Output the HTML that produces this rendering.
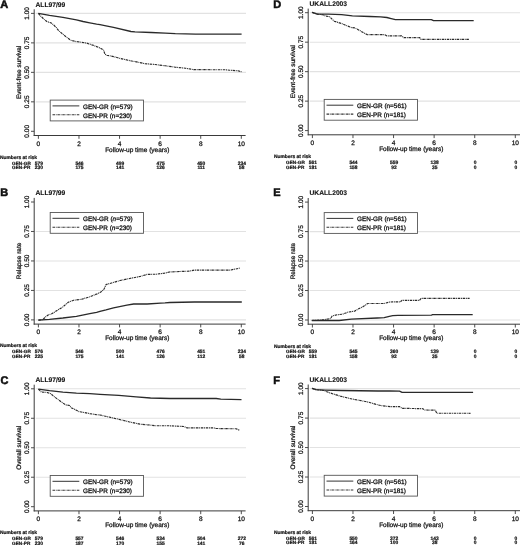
<!DOCTYPE html>
<html><head><meta charset="utf-8"><title>Kaplan-Meier curves</title>
<style>
html,body{margin:0;padding:0;background:#fff;}
body{width:520px;height:545px;overflow:hidden;}
svg{display:block;filter:blur(0.3px);}
text{font-family:"Liberation Sans",sans-serif;fill:#111;text-rendering:geometricPrecision;stroke:#111;stroke-width:0.25px;}
.letter{font-size:11px;font-weight:bold;stroke-width:0.55px;}
.title{font-size:6.7px;font-weight:bold;stroke-width:0.12px;}
.yt{font-size:6.5px;}
.ytitle{font-size:6.45px;}
.xt{font-size:6.5px;}
.xtitle{font-size:6.5px;}
.nar{font-size:4.9px;font-weight:bold;stroke-width:0.2px;}
.rt{font-size:4.7px;font-weight:bold;stroke-width:0.2px;}
.rn{font-size:4.9px;}
.leg{font-size:6.4px;stroke-width:0.28px;}
</style></head>
<body>
<svg width="520" height="545" viewBox="0 0 520 545">
<rect width="520" height="545" fill="#fff"/>
<g transform="translate(0,0)">
<line x1="35.7" y1="13.40" x2="246.0" y2="13.40" stroke="#e2e2e2" stroke-width="1.1"/>
<line x1="35.7" y1="42.88" x2="246.0" y2="42.88" stroke="#e2e2e2" stroke-width="1.1"/>
<line x1="35.7" y1="72.35" x2="246.0" y2="72.35" stroke="#e2e2e2" stroke-width="1.1"/>
<line x1="35.7" y1="101.83" x2="246.0" y2="101.83" stroke="#e2e2e2" stroke-width="1.1"/>
<line x1="34.2" y1="9.3" x2="34.2" y2="136.0" stroke="#3a3a3a" stroke-width="1"/>
<line x1="33.7" y1="135.5" x2="245.6" y2="135.5" stroke="#3a3a3a" stroke-width="1"/>
<line x1="31.000000000000004" y1="13.40" x2="34.2" y2="13.40" stroke="#3a3a3a" stroke-width="0.9"/>
<text transform="translate(29.0,13.40) rotate(-90)" text-anchor="middle" class="yt">1.00</text>
<line x1="31.000000000000004" y1="42.88" x2="34.2" y2="42.88" stroke="#3a3a3a" stroke-width="0.9"/>
<text transform="translate(29.0,42.88) rotate(-90)" text-anchor="middle" class="yt">0.75</text>
<line x1="31.000000000000004" y1="72.35" x2="34.2" y2="72.35" stroke="#3a3a3a" stroke-width="0.9"/>
<text transform="translate(29.0,72.35) rotate(-90)" text-anchor="middle" class="yt">0.50</text>
<line x1="31.000000000000004" y1="101.83" x2="34.2" y2="101.83" stroke="#3a3a3a" stroke-width="0.9"/>
<text transform="translate(29.0,101.83) rotate(-90)" text-anchor="middle" class="yt">0.25</text>
<line x1="31.000000000000004" y1="131.30" x2="34.2" y2="131.30" stroke="#3a3a3a" stroke-width="0.9"/>
<text transform="translate(29.0,131.30) rotate(-90)" text-anchor="middle" class="yt">0.00</text>
<text transform="translate(20.6,72.35) rotate(-90)" text-anchor="middle" class="ytitle">Event-free survival</text>
<line x1="38.40" y1="135.5" x2="38.40" y2="138.8" stroke="#3a3a3a" stroke-width="0.9"/>
<text x="38.40" y="145.5" text-anchor="middle" class="xt">0</text>
<line x1="78.98" y1="135.5" x2="78.98" y2="138.8" stroke="#3a3a3a" stroke-width="0.9"/>
<text x="78.98" y="145.5" text-anchor="middle" class="xt">2</text>
<line x1="119.56" y1="135.5" x2="119.56" y2="138.8" stroke="#3a3a3a" stroke-width="0.9"/>
<text x="119.56" y="145.5" text-anchor="middle" class="xt">4</text>
<line x1="160.14" y1="135.5" x2="160.14" y2="138.8" stroke="#3a3a3a" stroke-width="0.9"/>
<text x="160.14" y="145.5" text-anchor="middle" class="xt">6</text>
<line x1="200.72" y1="135.5" x2="200.72" y2="138.8" stroke="#3a3a3a" stroke-width="0.9"/>
<text x="200.72" y="145.5" text-anchor="middle" class="xt">8</text>
<line x1="241.30" y1="135.5" x2="241.30" y2="138.8" stroke="#3a3a3a" stroke-width="0.9"/>
<text x="241.30" y="145.5" text-anchor="middle" class="xt">10</text>
<text x="137.3" y="151.6" text-anchor="middle" class="xtitle">Follow-up time (years)</text>
<text x="0.2" y="8.1" class="letter">A</text>
<text x="35.5" y="6.6" class="title">ALL97/99</text>
<text x="0" y="158.9" class="nar">Numbers at risk</text>
<text x="12.1" y="164.6" class="rt">GEN-GR</text>
<text x="12.1" y="169.3" class="rt">GEN-PR</text>
<text x="38.90" y="164.6" text-anchor="middle" class="rt rn">579</text>
<text x="38.90" y="169.3" text-anchor="middle" class="rt rn">230</text>
<text x="79.48" y="164.6" text-anchor="middle" class="rt rn">546</text>
<text x="79.48" y="169.3" text-anchor="middle" class="rt rn">175</text>
<text x="120.06" y="164.6" text-anchor="middle" class="rt rn">499</text>
<text x="120.06" y="169.3" text-anchor="middle" class="rt rn">141</text>
<text x="160.64" y="164.6" text-anchor="middle" class="rt rn">475</text>
<text x="160.64" y="169.3" text-anchor="middle" class="rt rn">126</text>
<text x="201.22" y="164.6" text-anchor="middle" class="rt rn">450</text>
<text x="201.22" y="169.3" text-anchor="middle" class="rt rn">111</text>
<text x="241.80" y="164.6" text-anchor="middle" class="rt rn">234</text>
<text x="241.80" y="169.3" text-anchor="middle" class="rt rn">58</text>
<rect x="50.2" y="100.1" width="93.3" height="20.8" fill="#fff" stroke="#555" stroke-width="0.9"/>
<line x1="52.5" y1="105.90" x2="79.3" y2="105.90" stroke="#333" stroke-width="1"/>
<line x1="52.5" y1="114.80" x2="79.3" y2="114.80" stroke="#333" stroke-width="1.1" stroke-dasharray="2.5 0.75 0.9 0.75"/>
<text x="83.1" y="108.70" class="leg">GEN-GR (n=579)</text>
<text x="83.1" y="117.60" class="leg">GEN-PR (n=230)</text>
</g>
<polyline points="38.40,13.40 49.50,15.40 62.90,17.40 76.40,19.80 83.10,21.50 89.80,22.80 96.60,24.20 100.00,24.70 106.00,25.80 113.50,27.40 131.00,31.50 135.00,31.90 151.10,32.50 165.20,33.10 175.30,33.70 195.50,34.10 241.60,34.10" fill="none" stroke="#2a2a2a" stroke-width="1.3" stroke-linejoin="round"/>
<polyline points="38.40,13.40 40.00,15.40 44.10,19.40 46.80,21.50 50.80,22.80 53.50,24.80 56.20,27.50 58.90,30.90 62.90,34.20 67.00,37.60 71.00,40.30 76.40,41.60 80.00,42.00 86.70,43.10 93.50,45.40 100.20,48.10 103.60,50.10 104.90,54.20 106.90,55.20 113.60,56.60 120.40,58.50 129.80,60.60 137.90,62.20 145.00,63.70 155.10,64.50 165.20,65.80 175.30,67.20 185.40,68.20 193.50,69.60 225.80,69.80 229.80,70.20 237.90,70.80 241.60,71.80" fill="none" stroke="#2a2a2a" stroke-width="1.15" stroke-dasharray="2.5 0.75 0.9 0.75"/>
<g transform="translate(0,188.6)">
<line x1="35.7" y1="42.88" x2="246.0" y2="42.88" stroke="#e2e2e2" stroke-width="1.1"/>
<line x1="35.7" y1="72.35" x2="246.0" y2="72.35" stroke="#e2e2e2" stroke-width="1.1"/>
<line x1="35.7" y1="101.83" x2="246.0" y2="101.83" stroke="#e2e2e2" stroke-width="1.1"/>
<line x1="35.7" y1="131.30" x2="246.0" y2="131.30" stroke="#e2e2e2" stroke-width="1.1"/>
<line x1="34.2" y1="9.3" x2="34.2" y2="136.0" stroke="#3a3a3a" stroke-width="1"/>
<line x1="33.7" y1="135.5" x2="245.6" y2="135.5" stroke="#3a3a3a" stroke-width="1"/>
<line x1="31.000000000000004" y1="13.40" x2="34.2" y2="13.40" stroke="#3a3a3a" stroke-width="0.9"/>
<text transform="translate(29.0,13.40) rotate(-90)" text-anchor="middle" class="yt">1.00</text>
<line x1="31.000000000000004" y1="42.88" x2="34.2" y2="42.88" stroke="#3a3a3a" stroke-width="0.9"/>
<text transform="translate(29.0,42.88) rotate(-90)" text-anchor="middle" class="yt">0.75</text>
<line x1="31.000000000000004" y1="72.35" x2="34.2" y2="72.35" stroke="#3a3a3a" stroke-width="0.9"/>
<text transform="translate(29.0,72.35) rotate(-90)" text-anchor="middle" class="yt">0.50</text>
<line x1="31.000000000000004" y1="101.83" x2="34.2" y2="101.83" stroke="#3a3a3a" stroke-width="0.9"/>
<text transform="translate(29.0,101.83) rotate(-90)" text-anchor="middle" class="yt">0.25</text>
<line x1="31.000000000000004" y1="131.30" x2="34.2" y2="131.30" stroke="#3a3a3a" stroke-width="0.9"/>
<text transform="translate(29.0,131.30) rotate(-90)" text-anchor="middle" class="yt">0.00</text>
<text transform="translate(20.6,72.35) rotate(-90)" text-anchor="middle" class="ytitle">Relapse rate</text>
<line x1="38.40" y1="135.5" x2="38.40" y2="138.8" stroke="#3a3a3a" stroke-width="0.9"/>
<text x="38.40" y="145.5" text-anchor="middle" class="xt">0</text>
<line x1="78.98" y1="135.5" x2="78.98" y2="138.8" stroke="#3a3a3a" stroke-width="0.9"/>
<text x="78.98" y="145.5" text-anchor="middle" class="xt">2</text>
<line x1="119.56" y1="135.5" x2="119.56" y2="138.8" stroke="#3a3a3a" stroke-width="0.9"/>
<text x="119.56" y="145.5" text-anchor="middle" class="xt">4</text>
<line x1="160.14" y1="135.5" x2="160.14" y2="138.8" stroke="#3a3a3a" stroke-width="0.9"/>
<text x="160.14" y="145.5" text-anchor="middle" class="xt">6</text>
<line x1="200.72" y1="135.5" x2="200.72" y2="138.8" stroke="#3a3a3a" stroke-width="0.9"/>
<text x="200.72" y="145.5" text-anchor="middle" class="xt">8</text>
<line x1="241.30" y1="135.5" x2="241.30" y2="138.8" stroke="#3a3a3a" stroke-width="0.9"/>
<text x="241.30" y="145.5" text-anchor="middle" class="xt">10</text>
<text x="137.3" y="151.6" text-anchor="middle" class="xtitle">Follow-up time (years)</text>
<text x="0.3" y="7.700000000000017" class="letter">B</text>
<text x="35.5" y="6.6" class="title">ALL97/99</text>
<text x="0" y="158.9" class="nar">Numbers at risk</text>
<text x="12.1" y="164.6" class="rt">GEN-GR</text>
<text x="12.1" y="169.3" class="rt">GEN-PR</text>
<text x="38.90" y="164.6" text-anchor="middle" class="rt rn">576</text>
<text x="38.90" y="169.3" text-anchor="middle" class="rt rn">225</text>
<text x="79.48" y="164.6" text-anchor="middle" class="rt rn">546</text>
<text x="79.48" y="169.3" text-anchor="middle" class="rt rn">175</text>
<text x="120.06" y="164.6" text-anchor="middle" class="rt rn">500</text>
<text x="120.06" y="169.3" text-anchor="middle" class="rt rn">141</text>
<text x="160.64" y="164.6" text-anchor="middle" class="rt rn">476</text>
<text x="160.64" y="169.3" text-anchor="middle" class="rt rn">126</text>
<text x="201.22" y="164.6" text-anchor="middle" class="rt rn">451</text>
<text x="201.22" y="169.3" text-anchor="middle" class="rt rn">112</text>
<text x="241.80" y="164.6" text-anchor="middle" class="rt rn">234</text>
<text x="241.80" y="169.3" text-anchor="middle" class="rt rn">58</text>
<rect x="50.2" y="23.9" width="93.3" height="20.8" fill="#fff" stroke="#555" stroke-width="0.9"/>
<line x1="52.5" y1="29.70" x2="79.3" y2="29.70" stroke="#333" stroke-width="1"/>
<line x1="52.5" y1="38.60" x2="79.3" y2="38.60" stroke="#333" stroke-width="1.1" stroke-dasharray="2.5 0.75 0.9 0.75"/>
<text x="83.1" y="32.50" class="leg">GEN-GR (<tspan font-style="italic">n</tspan>=579)</text>
<text x="83.1" y="41.40" class="leg">GEN-PR (<tspan font-style="italic">n</tspan>=230)</text>
</g>
<polyline points="38.40,320.10 49.50,319.30 62.90,318.00 76.40,316.30 89.80,313.60 96.60,312.30 100.00,311.40 106.00,309.90 113.50,307.80 126.90,305.10 133.60,304.00 147.10,304.00 160.60,303.10 165.00,302.90 169.90,302.50 194.40,302.00 241.80,302.00" fill="none" stroke="#2a2a2a" stroke-width="1.3" stroke-linejoin="round"/>
<polyline points="38.40,320.10 42.70,319.70 45.40,317.00 48.10,315.00 52.20,313.60 56.20,311.00 62.90,306.90 68.30,302.20 73.70,300.20 81.80,299.20 89.80,296.80 97.90,293.50 100.00,292.60 103.30,290.10 104.50,288.20 106.10,284.50 110.80,283.20 120.20,280.50 129.60,278.50 140.40,276.40 147.10,274.40 156.50,274.20 164.60,273.10 169.90,271.90 189.50,271.10 194.40,270.10 230.40,270.10 233.60,269.30 238.50,268.50 240.20,267.70" fill="none" stroke="#2a2a2a" stroke-width="1.15" stroke-dasharray="2.5 0.75 0.9 0.75"/>
<g transform="translate(0,375.4)">
<line x1="35.7" y1="13.40" x2="246.0" y2="13.40" stroke="#e2e2e2" stroke-width="1.1"/>
<line x1="35.7" y1="42.88" x2="246.0" y2="42.88" stroke="#e2e2e2" stroke-width="1.1"/>
<line x1="35.7" y1="72.35" x2="246.0" y2="72.35" stroke="#e2e2e2" stroke-width="1.1"/>
<line x1="35.7" y1="101.83" x2="246.0" y2="101.83" stroke="#e2e2e2" stroke-width="1.1"/>
<line x1="34.2" y1="9.3" x2="34.2" y2="136.0" stroke="#3a3a3a" stroke-width="1"/>
<line x1="33.7" y1="135.5" x2="245.6" y2="135.5" stroke="#3a3a3a" stroke-width="1"/>
<line x1="31.000000000000004" y1="13.40" x2="34.2" y2="13.40" stroke="#3a3a3a" stroke-width="0.9"/>
<text transform="translate(29.0,13.40) rotate(-90)" text-anchor="middle" class="yt">1.00</text>
<line x1="31.000000000000004" y1="42.88" x2="34.2" y2="42.88" stroke="#3a3a3a" stroke-width="0.9"/>
<text transform="translate(29.0,42.88) rotate(-90)" text-anchor="middle" class="yt">0.75</text>
<line x1="31.000000000000004" y1="72.35" x2="34.2" y2="72.35" stroke="#3a3a3a" stroke-width="0.9"/>
<text transform="translate(29.0,72.35) rotate(-90)" text-anchor="middle" class="yt">0.50</text>
<line x1="31.000000000000004" y1="101.83" x2="34.2" y2="101.83" stroke="#3a3a3a" stroke-width="0.9"/>
<text transform="translate(29.0,101.83) rotate(-90)" text-anchor="middle" class="yt">0.25</text>
<line x1="31.000000000000004" y1="131.30" x2="34.2" y2="131.30" stroke="#3a3a3a" stroke-width="0.9"/>
<text transform="translate(29.0,131.30) rotate(-90)" text-anchor="middle" class="yt">0.00</text>
<text transform="translate(20.6,72.35) rotate(-90)" text-anchor="middle" class="ytitle">Overall survival</text>
<line x1="38.40" y1="135.5" x2="38.40" y2="138.8" stroke="#3a3a3a" stroke-width="0.9"/>
<text x="38.40" y="145.5" text-anchor="middle" class="xt">0</text>
<line x1="78.98" y1="135.5" x2="78.98" y2="138.8" stroke="#3a3a3a" stroke-width="0.9"/>
<text x="78.98" y="145.5" text-anchor="middle" class="xt">2</text>
<line x1="119.56" y1="135.5" x2="119.56" y2="138.8" stroke="#3a3a3a" stroke-width="0.9"/>
<text x="119.56" y="145.5" text-anchor="middle" class="xt">4</text>
<line x1="160.14" y1="135.5" x2="160.14" y2="138.8" stroke="#3a3a3a" stroke-width="0.9"/>
<text x="160.14" y="145.5" text-anchor="middle" class="xt">6</text>
<line x1="200.72" y1="135.5" x2="200.72" y2="138.8" stroke="#3a3a3a" stroke-width="0.9"/>
<text x="200.72" y="145.5" text-anchor="middle" class="xt">8</text>
<line x1="241.30" y1="135.5" x2="241.30" y2="138.8" stroke="#3a3a3a" stroke-width="0.9"/>
<text x="241.30" y="145.5" text-anchor="middle" class="xt">10</text>
<text x="137.3" y="151.6" text-anchor="middle" class="xtitle">Follow-up time (years)</text>
<text x="0.5" y="8.700000000000045" class="letter">C</text>
<text x="35.5" y="6.6" class="title">ALL97/99</text>
<text x="0" y="158.9" class="nar">Numbers at risk</text>
<text x="12.1" y="164.6" class="rt">GEN-GR</text>
<text x="12.1" y="169.3" class="rt">GEN-PR</text>
<text x="38.90" y="164.6" text-anchor="middle" class="rt rn">579</text>
<text x="38.90" y="169.3" text-anchor="middle" class="rt rn">230</text>
<text x="79.48" y="164.6" text-anchor="middle" class="rt rn">557</text>
<text x="79.48" y="169.3" text-anchor="middle" class="rt rn">187</text>
<text x="120.06" y="164.6" text-anchor="middle" class="rt rn">546</text>
<text x="120.06" y="169.3" text-anchor="middle" class="rt rn">170</text>
<text x="160.64" y="164.6" text-anchor="middle" class="rt rn">534</text>
<text x="160.64" y="169.3" text-anchor="middle" class="rt rn">155</text>
<text x="201.22" y="164.6" text-anchor="middle" class="rt rn">504</text>
<text x="201.22" y="169.3" text-anchor="middle" class="rt rn">141</text>
<text x="241.80" y="164.6" text-anchor="middle" class="rt rn">272</text>
<text x="241.80" y="169.3" text-anchor="middle" class="rt rn">76</text>
<rect x="50.2" y="100.1" width="93.3" height="20.8" fill="#fff" stroke="#555" stroke-width="0.9"/>
<line x1="52.5" y1="105.90" x2="79.3" y2="105.90" stroke="#333" stroke-width="1"/>
<line x1="52.5" y1="114.80" x2="79.3" y2="114.80" stroke="#333" stroke-width="1.1" stroke-dasharray="2.5 0.75 0.9 0.75"/>
<text x="83.1" y="108.70" class="leg">GEN-GR (n=579)</text>
<text x="83.1" y="117.60" class="leg">GEN-PR (n=230)</text>
</g>
<polyline points="38.40,389.10 49.50,390.70 62.90,392.10 76.40,393.20 89.80,393.70 100.00,394.40 118.80,395.40 136.10,396.80 150.50,398.00 170.00,398.50 216.20,398.50 220.80,399.20 241.50,399.60" fill="none" stroke="#2a2a2a" stroke-width="1.3" stroke-linejoin="round"/>
<polyline points="38.40,389.10 41.40,392.10 46.80,392.30 50.80,393.70 53.50,396.10 58.90,400.20 65.60,404.90 69.60,405.50 71.00,407.60 79.10,411.60 89.80,413.60 96.60,414.70 100.00,415.00 108.70,417.00 118.80,419.30 128.90,421.80 140.40,424.20 150.50,425.10 154.80,425.70 170.00,425.80 183.80,426.50 186.90,427.80 213.10,427.80 216.20,428.50 236.20,428.80 238.50,429.90 240.00,429.90" fill="none" stroke="#2a2a2a" stroke-width="1.15" stroke-dasharray="2.5 0.75 0.9 0.75"/>
<g transform="translate(274,-0.7)">
<line x1="35.7" y1="13.40" x2="250" y2="13.40" stroke="#e2e2e2" stroke-width="1.1"/>
<line x1="35.7" y1="42.88" x2="250" y2="42.88" stroke="#e2e2e2" stroke-width="1.1"/>
<line x1="35.7" y1="72.35" x2="250" y2="72.35" stroke="#e2e2e2" stroke-width="1.1"/>
<line x1="35.7" y1="101.83" x2="250" y2="101.83" stroke="#e2e2e2" stroke-width="1.1"/>
<line x1="34.2" y1="9.3" x2="34.2" y2="136.0" stroke="#3a3a3a" stroke-width="1"/>
<line x1="33.7" y1="135.5" x2="250" y2="135.5" stroke="#3a3a3a" stroke-width="1"/>
<line x1="31.000000000000004" y1="13.40" x2="34.2" y2="13.40" stroke="#3a3a3a" stroke-width="0.9"/>
<text transform="translate(29.0,13.40) rotate(-90)" text-anchor="middle" class="yt">1.00</text>
<line x1="31.000000000000004" y1="42.88" x2="34.2" y2="42.88" stroke="#3a3a3a" stroke-width="0.9"/>
<text transform="translate(29.0,42.88) rotate(-90)" text-anchor="middle" class="yt">0.75</text>
<line x1="31.000000000000004" y1="72.35" x2="34.2" y2="72.35" stroke="#3a3a3a" stroke-width="0.9"/>
<text transform="translate(29.0,72.35) rotate(-90)" text-anchor="middle" class="yt">0.50</text>
<line x1="31.000000000000004" y1="101.83" x2="34.2" y2="101.83" stroke="#3a3a3a" stroke-width="0.9"/>
<text transform="translate(29.0,101.83) rotate(-90)" text-anchor="middle" class="yt">0.25</text>
<line x1="31.000000000000004" y1="131.30" x2="34.2" y2="131.30" stroke="#3a3a3a" stroke-width="0.9"/>
<text transform="translate(29.0,131.30) rotate(-90)" text-anchor="middle" class="yt">0.00</text>
<text transform="translate(20.6,72.35) rotate(-90)" text-anchor="middle" class="ytitle">Event-free survival</text>
<line x1="38.40" y1="135.5" x2="38.40" y2="138.8" stroke="#3a3a3a" stroke-width="0.9"/>
<text x="38.40" y="145.5" text-anchor="middle" class="xt">0</text>
<line x1="78.98" y1="135.5" x2="78.98" y2="138.8" stroke="#3a3a3a" stroke-width="0.9"/>
<text x="78.98" y="145.5" text-anchor="middle" class="xt">2</text>
<line x1="119.56" y1="135.5" x2="119.56" y2="138.8" stroke="#3a3a3a" stroke-width="0.9"/>
<text x="119.56" y="145.5" text-anchor="middle" class="xt">4</text>
<line x1="160.14" y1="135.5" x2="160.14" y2="138.8" stroke="#3a3a3a" stroke-width="0.9"/>
<text x="160.14" y="145.5" text-anchor="middle" class="xt">6</text>
<line x1="200.72" y1="135.5" x2="200.72" y2="138.8" stroke="#3a3a3a" stroke-width="0.9"/>
<text x="200.72" y="145.5" text-anchor="middle" class="xt">8</text>
<line x1="241.30" y1="135.5" x2="241.30" y2="138.8" stroke="#3a3a3a" stroke-width="0.9"/>
<text x="241.30" y="145.5" text-anchor="middle" class="xt">10</text>
<text x="137.3" y="151.6" text-anchor="middle" class="xtitle">Follow-up time (years)</text>
<text x="-0.6999999999999886" y="9.0" class="letter">D</text>
<text x="35.5" y="6.6" class="title">UKALL2003</text>
<text x="0" y="158.9" class="nar">Numbers at risk</text>
<text x="12.1" y="164.6" class="rt">GEN-GR</text>
<text x="12.1" y="169.3" class="rt">GEN-PR</text>
<text x="38.90" y="164.6" text-anchor="middle" class="rt rn">561</text>
<text x="38.90" y="169.3" text-anchor="middle" class="rt rn">181</text>
<text x="79.48" y="164.6" text-anchor="middle" class="rt rn">544</text>
<text x="79.48" y="169.3" text-anchor="middle" class="rt rn">158</text>
<text x="120.06" y="164.6" text-anchor="middle" class="rt rn">559</text>
<text x="120.06" y="169.3" text-anchor="middle" class="rt rn">92</text>
<text x="160.64" y="164.6" text-anchor="middle" class="rt rn">138</text>
<text x="160.64" y="169.3" text-anchor="middle" class="rt rn">35</text>
<text x="201.22" y="164.6" text-anchor="middle" class="rt rn">0</text>
<text x="201.22" y="169.3" text-anchor="middle" class="rt rn">0</text>
<text x="241.80" y="164.6" text-anchor="middle" class="rt rn">0</text>
<text x="241.80" y="169.3" text-anchor="middle" class="rt rn">0</text>
<rect x="50.2" y="100.1" width="93.3" height="20.8" fill="#fff" stroke="#555" stroke-width="0.9"/>
<line x1="52.5" y1="105.90" x2="79.3" y2="105.90" stroke="#333" stroke-width="1"/>
<line x1="52.5" y1="114.80" x2="79.3" y2="114.80" stroke="#333" stroke-width="1.1" stroke-dasharray="2.5 0.75 0.9 0.75"/>
<text x="83.1" y="108.70" class="leg">GEN-GR (n=561)</text>
<text x="83.1" y="117.60" class="leg">GEN-PR (n=181)</text>
</g>
<polyline points="312.00,12.30 317.40,14.10 328.20,14.10 341.60,14.70 352.40,15.80 370.00,16.50 380.60,16.90 386.90,17.50 391.20,18.60 395.40,19.60 431.30,19.60 433.50,20.70 473.70,20.70" fill="none" stroke="#2a2a2a" stroke-width="1.3" stroke-linejoin="round"/>
<polyline points="312.00,12.30 317.40,14.10 322.80,14.70 325.50,16.10 329.50,16.70 334.20,21.20 341.60,23.50 351.10,27.50 355.10,27.90 359.10,30.20 363.20,32.50 367.20,34.60 369.90,34.60 384.80,34.60 386.90,35.90 401.70,35.90 403.80,37.60 419.70,37.60 420.80,39.30 469.40,39.30" fill="none" stroke="#2a2a2a" stroke-width="1.15" stroke-dasharray="2.5 0.75 0.9 0.75"/>
<g transform="translate(274,188.7)">
<line x1="35.7" y1="42.88" x2="250" y2="42.88" stroke="#e2e2e2" stroke-width="1.1"/>
<line x1="35.7" y1="72.35" x2="250" y2="72.35" stroke="#e2e2e2" stroke-width="1.1"/>
<line x1="35.7" y1="101.83" x2="250" y2="101.83" stroke="#e2e2e2" stroke-width="1.1"/>
<line x1="35.7" y1="131.30" x2="250" y2="131.30" stroke="#e2e2e2" stroke-width="1.1"/>
<line x1="34.2" y1="9.3" x2="34.2" y2="136.0" stroke="#3a3a3a" stroke-width="1"/>
<line x1="33.7" y1="135.5" x2="250" y2="135.5" stroke="#3a3a3a" stroke-width="1"/>
<line x1="31.000000000000004" y1="13.40" x2="34.2" y2="13.40" stroke="#3a3a3a" stroke-width="0.9"/>
<text transform="translate(29.0,13.40) rotate(-90)" text-anchor="middle" class="yt">1.00</text>
<line x1="31.000000000000004" y1="42.88" x2="34.2" y2="42.88" stroke="#3a3a3a" stroke-width="0.9"/>
<text transform="translate(29.0,42.88) rotate(-90)" text-anchor="middle" class="yt">0.75</text>
<line x1="31.000000000000004" y1="72.35" x2="34.2" y2="72.35" stroke="#3a3a3a" stroke-width="0.9"/>
<text transform="translate(29.0,72.35) rotate(-90)" text-anchor="middle" class="yt">0.50</text>
<line x1="31.000000000000004" y1="101.83" x2="34.2" y2="101.83" stroke="#3a3a3a" stroke-width="0.9"/>
<text transform="translate(29.0,101.83) rotate(-90)" text-anchor="middle" class="yt">0.25</text>
<line x1="31.000000000000004" y1="131.30" x2="34.2" y2="131.30" stroke="#3a3a3a" stroke-width="0.9"/>
<text transform="translate(29.0,131.30) rotate(-90)" text-anchor="middle" class="yt">0.00</text>
<text transform="translate(20.6,72.35) rotate(-90)" text-anchor="middle" class="ytitle">Relapse rate</text>
<line x1="38.40" y1="135.5" x2="38.40" y2="138.8" stroke="#3a3a3a" stroke-width="0.9"/>
<text x="38.40" y="145.5" text-anchor="middle" class="xt">0</text>
<line x1="78.98" y1="135.5" x2="78.98" y2="138.8" stroke="#3a3a3a" stroke-width="0.9"/>
<text x="78.98" y="145.5" text-anchor="middle" class="xt">2</text>
<line x1="119.56" y1="135.5" x2="119.56" y2="138.8" stroke="#3a3a3a" stroke-width="0.9"/>
<text x="119.56" y="145.5" text-anchor="middle" class="xt">4</text>
<line x1="160.14" y1="135.5" x2="160.14" y2="138.8" stroke="#3a3a3a" stroke-width="0.9"/>
<text x="160.14" y="145.5" text-anchor="middle" class="xt">6</text>
<line x1="200.72" y1="135.5" x2="200.72" y2="138.8" stroke="#3a3a3a" stroke-width="0.9"/>
<text x="200.72" y="145.5" text-anchor="middle" class="xt">8</text>
<line x1="241.30" y1="135.5" x2="241.30" y2="138.8" stroke="#3a3a3a" stroke-width="0.9"/>
<text x="241.30" y="145.5" text-anchor="middle" class="xt">10</text>
<text x="137.3" y="151.6" text-anchor="middle" class="xtitle">Follow-up time (years)</text>
<text x="-0.6999999999999886" y="7.600000000000023" class="letter">E</text>
<text x="35.5" y="6.6" class="title">UKALL2003</text>
<text x="0" y="158.9" class="nar">Numbers at risk</text>
<text x="12.1" y="164.6" class="rt">GEN-GR</text>
<text x="12.1" y="169.3" class="rt">GEN-PR</text>
<text x="38.90" y="164.6" text-anchor="middle" class="rt rn">559</text>
<text x="38.90" y="169.3" text-anchor="middle" class="rt rn">181</text>
<text x="79.48" y="164.6" text-anchor="middle" class="rt rn">545</text>
<text x="79.48" y="169.3" text-anchor="middle" class="rt rn">158</text>
<text x="120.06" y="164.6" text-anchor="middle" class="rt rn">360</text>
<text x="120.06" y="169.3" text-anchor="middle" class="rt rn">92</text>
<text x="160.64" y="164.6" text-anchor="middle" class="rt rn">139</text>
<text x="160.64" y="169.3" text-anchor="middle" class="rt rn">35</text>
<text x="201.22" y="164.6" text-anchor="middle" class="rt rn">0</text>
<text x="201.22" y="169.3" text-anchor="middle" class="rt rn">0</text>
<text x="241.80" y="164.6" text-anchor="middle" class="rt rn">0</text>
<text x="241.80" y="169.3" text-anchor="middle" class="rt rn">0</text>
<rect x="50.2" y="23.9" width="93.3" height="20.8" fill="#fff" stroke="#555" stroke-width="0.9"/>
<line x1="52.5" y1="29.70" x2="79.3" y2="29.70" stroke="#333" stroke-width="1"/>
<line x1="52.5" y1="38.60" x2="79.3" y2="38.60" stroke="#333" stroke-width="1.1" stroke-dasharray="2.5 0.75 0.9 0.75"/>
<text x="83.1" y="32.50" class="leg">GEN-GR (n=561)</text>
<text x="83.1" y="41.40" class="leg">GEN-PR (n=181)</text>
</g>
<polyline points="311.80,320.50 339.20,320.50 351.30,319.10 377.20,318.00 384.20,317.70 389.30,316.30 392.80,315.60 398.00,315.40 431.50,315.10 432.40,314.70 472.70,314.70" fill="none" stroke="#2a2a2a" stroke-width="1.3" stroke-linejoin="round"/>
<polyline points="311.80,320.50 323.60,319.80 330.50,318.60 332.20,316.00 337.40,314.70 342.60,314.20 347.80,312.20 354.70,311.10 358.20,309.00 363.40,306.40 367.70,303.50 384.20,303.50 389.30,302.10 392.80,301.80 400.40,301.80 402.10,300.40 419.40,300.40 421.20,298.30 469.60,298.30" fill="none" stroke="#2a2a2a" stroke-width="1.15" stroke-dasharray="2.5 0.75 0.9 0.75"/>
<g transform="translate(274,375.2)">
<line x1="35.7" y1="13.40" x2="250" y2="13.40" stroke="#e2e2e2" stroke-width="1.1"/>
<line x1="35.7" y1="42.88" x2="250" y2="42.88" stroke="#e2e2e2" stroke-width="1.1"/>
<line x1="35.7" y1="72.35" x2="250" y2="72.35" stroke="#e2e2e2" stroke-width="1.1"/>
<line x1="35.7" y1="101.83" x2="250" y2="101.83" stroke="#e2e2e2" stroke-width="1.1"/>
<line x1="34.2" y1="9.3" x2="34.2" y2="136.0" stroke="#3a3a3a" stroke-width="1"/>
<line x1="33.7" y1="135.5" x2="250" y2="135.5" stroke="#3a3a3a" stroke-width="1"/>
<line x1="31.000000000000004" y1="13.40" x2="34.2" y2="13.40" stroke="#3a3a3a" stroke-width="0.9"/>
<text transform="translate(29.0,13.40) rotate(-90)" text-anchor="middle" class="yt">1.00</text>
<line x1="31.000000000000004" y1="42.88" x2="34.2" y2="42.88" stroke="#3a3a3a" stroke-width="0.9"/>
<text transform="translate(29.0,42.88) rotate(-90)" text-anchor="middle" class="yt">0.75</text>
<line x1="31.000000000000004" y1="72.35" x2="34.2" y2="72.35" stroke="#3a3a3a" stroke-width="0.9"/>
<text transform="translate(29.0,72.35) rotate(-90)" text-anchor="middle" class="yt">0.50</text>
<line x1="31.000000000000004" y1="101.83" x2="34.2" y2="101.83" stroke="#3a3a3a" stroke-width="0.9"/>
<text transform="translate(29.0,101.83) rotate(-90)" text-anchor="middle" class="yt">0.25</text>
<line x1="31.000000000000004" y1="131.30" x2="34.2" y2="131.30" stroke="#3a3a3a" stroke-width="0.9"/>
<text transform="translate(29.0,131.30) rotate(-90)" text-anchor="middle" class="yt">0.00</text>
<text transform="translate(20.6,72.35) rotate(-90)" text-anchor="middle" class="ytitle">Overall survival</text>
<line x1="38.40" y1="135.5" x2="38.40" y2="138.8" stroke="#3a3a3a" stroke-width="0.9"/>
<text x="38.40" y="145.5" text-anchor="middle" class="xt">0</text>
<line x1="78.98" y1="135.5" x2="78.98" y2="138.8" stroke="#3a3a3a" stroke-width="0.9"/>
<text x="78.98" y="145.5" text-anchor="middle" class="xt">2</text>
<line x1="119.56" y1="135.5" x2="119.56" y2="138.8" stroke="#3a3a3a" stroke-width="0.9"/>
<text x="119.56" y="145.5" text-anchor="middle" class="xt">4</text>
<line x1="160.14" y1="135.5" x2="160.14" y2="138.8" stroke="#3a3a3a" stroke-width="0.9"/>
<text x="160.14" y="145.5" text-anchor="middle" class="xt">6</text>
<line x1="200.72" y1="135.5" x2="200.72" y2="138.8" stroke="#3a3a3a" stroke-width="0.9"/>
<text x="200.72" y="145.5" text-anchor="middle" class="xt">8</text>
<line x1="241.30" y1="135.5" x2="241.30" y2="138.8" stroke="#3a3a3a" stroke-width="0.9"/>
<text x="241.30" y="145.5" text-anchor="middle" class="xt">10</text>
<text x="137.3" y="151.6" text-anchor="middle" class="xtitle">Follow-up time (years)</text>
<text x="-0.6999999999999886" y="9.100000000000023" class="letter">F</text>
<text x="35.5" y="6.6" class="title">UKALL2003</text>
<text x="0" y="158.9" class="nar">Numbers at risk</text>
<text x="12.1" y="164.6" class="rt">GEN-GR</text>
<text x="12.1" y="169.3" class="rt">GEN-PR</text>
<text x="38.90" y="164.6" text-anchor="middle" class="rt rn">561</text>
<text x="38.90" y="169.3" text-anchor="middle" class="rt rn">181</text>
<text x="79.48" y="164.6" text-anchor="middle" class="rt rn">550</text>
<text x="79.48" y="169.3" text-anchor="middle" class="rt rn">164</text>
<text x="120.06" y="164.6" text-anchor="middle" class="rt rn">372</text>
<text x="120.06" y="169.3" text-anchor="middle" class="rt rn">100</text>
<text x="160.64" y="164.6" text-anchor="middle" class="rt rn">143</text>
<text x="160.64" y="169.3" text-anchor="middle" class="rt rn">38</text>
<text x="201.22" y="164.6" text-anchor="middle" class="rt rn">0</text>
<text x="201.22" y="169.3" text-anchor="middle" class="rt rn">0</text>
<text x="241.80" y="164.6" text-anchor="middle" class="rt rn">0</text>
<text x="241.80" y="169.3" text-anchor="middle" class="rt rn">0</text>
<rect x="50.2" y="100.1" width="93.3" height="20.8" fill="#fff" stroke="#555" stroke-width="0.9"/>
<line x1="52.5" y1="105.90" x2="79.3" y2="105.90" stroke="#333" stroke-width="1"/>
<line x1="52.5" y1="114.80" x2="79.3" y2="114.80" stroke="#333" stroke-width="1.1" stroke-dasharray="2.5 0.75 0.9 0.75"/>
<text x="83.1" y="108.70" class="leg">GEN-GR (n=561)</text>
<text x="83.1" y="117.60" class="leg">GEN-PR (n=181)</text>
</g>
<polyline points="312.00,388.30 316.10,389.70 325.50,390.10 341.60,390.50 378.00,391.00 390.00,391.00 399.50,391.20 402.10,392.40 473.10,392.40" fill="none" stroke="#2a2a2a" stroke-width="1.3" stroke-linejoin="round"/>
<polyline points="312.00,388.30 316.10,389.70 324.20,390.50 328.20,392.30 334.90,394.50 340.30,396.10 345.70,397.50 352.40,399.10 361.80,400.80 368.60,402.20 378.00,404.90 382.90,405.90 390.00,406.60 399.50,406.60 402.10,408.30 422.90,408.70 424.60,410.00 435.30,410.20 436.70,413.20 470.50,413.30" fill="none" stroke="#2a2a2a" stroke-width="1.15" stroke-dasharray="2.5 0.75 0.9 0.75"/>
</svg>
</body></html>
